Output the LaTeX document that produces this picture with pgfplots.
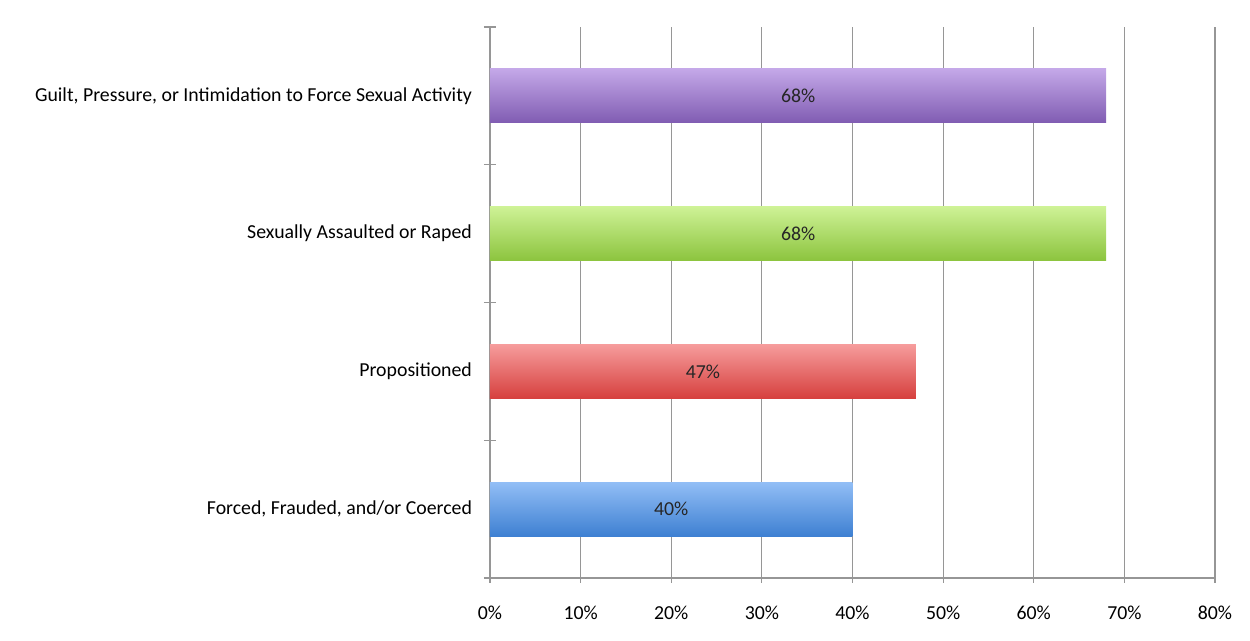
\documentclass[border=0pt]{standalone}
\usepackage{pgfplots}
\pgfplotsset{compat=1.18}
\usepackage{fontspec}
\setmainfont{Carlito}
\definecolor{gridgray}{RGB}{150,150,150}
\definecolor{purpT}{RGB}{196,168,232}
\definecolor{purpB}{RGB}{128,92,178}
\definecolor{greenT}{RGB}{206,242,150}
\definecolor{greenB}{RGB}{140,196,62}
\definecolor{redT}{RGB}{246,156,156}
\definecolor{redB}{RGB}{214,64,62}
\definecolor{blueT}{RGB}{146,190,246}
\definecolor{blueB}{RGB}{62,128,210}
\begin{document}
\begin{tikzpicture}
\path[use as bounding box] (-245pt,-31.5pt) rectangle (380pt,289pt);
\begin{axis}[
  at={(0,0)}, anchor=south west,
  scale only axis, width=362.5pt, height=275.5pt,
  xmin=0, xmax=80, ymin=-0.5, ymax=3.5,
  axis x line*=bottom, axis y line*=left,
  axis line style={gridgray, line width=0.8pt, -},
  xtick={0,10,...,80},
  xticklabel={\pgfmathprintnumber{\tick}\%},
  /pgf/number format/assume math mode=true,
  xmajorgrids, major grid style={gridgray, line width=0.6pt},
  x tick style={gridgray, line width=0.6pt},
  tick align=center, major tick length=5pt,
  xticklabel style={yshift=-8pt},
  ytick={0,1,2,3},
  yticklabels={{Forced, Frauded, and/or Coerced},{Propositioned},{Sexually Assaulted or Raped},{Guilt, Pressure, or Intimidation to Force Sexual Activity}},
  y tick style={draw=none},
  minor ytick={-0.5,0.5,1.5,2.5,3.5},
  minor y tick style={draw=gridgray, line width=0.6pt},
  minor tick length=6pt,
  yticklabel style={xshift=-3pt},
  tick label style={font=\fontsize{9.9}{11}\selectfont, text=black},
  clip=false,
]
\addplot[xbar, bar width=27pt, draw=none, top color=blueT, bottom color=blueB] coordinates {(40,0)};
\addplot[xbar, bar width=27pt, draw=none, top color=redT, bottom color=redB] coordinates {(47,1)};
\addplot[xbar, bar width=27pt, draw=none, top color=greenT, bottom color=greenB] coordinates {(68,2)};
\addplot[xbar, bar width=27pt, draw=none, top color=purpT, bottom color=purpB] coordinates {(68,3)};
\addplot[only marks, mark=none, point meta=explicit,
  nodes near coords={\pgfmathprintnumber{\pgfplotspointmeta}\%},
  every node near coord/.append style={anchor=center, font=\fontsize{9.9}{11}\selectfont, text=black!85},
] coordinates {(20,0) [40] (23.5,1) [47] (34,2) [68] (34,3) [68]};
\end{axis}
\end{tikzpicture}
\end{document}
